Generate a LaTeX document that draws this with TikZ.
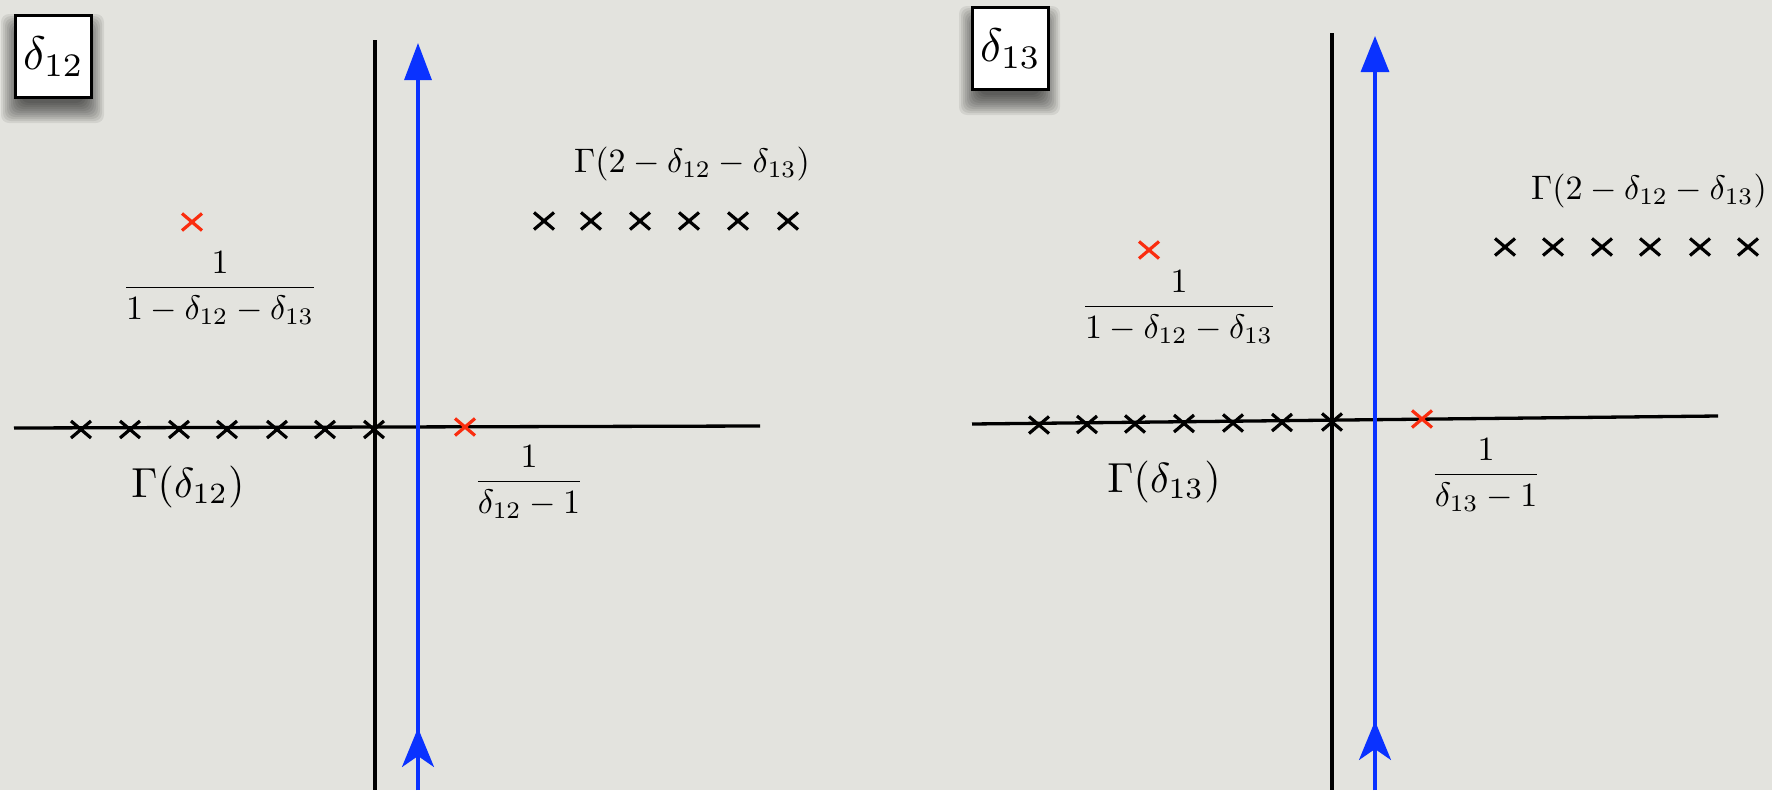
\documentclass[tikz,border=0pt]{standalone}
\usepackage{graphicx}
\usetikzlibrary{arrows.meta}
\definecolor{bg}{RGB}{227,227,222}
\definecolor{polered}{RGB}{250,45,15}
\definecolor{contblue}{RGB}{10,50,255}
\newcommand{\mylargemath}[1]{\scalebox{4.2}{$#1$}}
\newcommand{\mymidmath}[1]{\scalebox{3.4}{$\displaystyle #1$}}
\newcommand{\myboxmath}[1]{\scalebox{4.7}{$#1$}}
\newcommand{\myshadow}[4]{% x1 y1 x2 y2 of box outer edge
  \foreach \r in {12,10,...,-8}
    \fill[black,opacity=0.075,rounded corners=8pt]
      (#1-1-\r,#2+12-\r) rectangle (#3-1+\r,#4+12+\r);}
\tikzset{
  axisline/.style={line width=3.3pt,black},
  contour/.style={line width=3.2pt,contblue},
  xmark/.pic={\draw[line width=3.2pt] (-10,-8.5) -- (10,8.5) (-10,8.5) -- (10,-8.5);},
  labelbox/.style={draw,line width=3pt,fill=white,minimum width=76pt,minimum height=82pt,inner sep=0pt},
  txt/.style={inner sep=0pt},
}
\begin{document}
\begin{tikzpicture}[x=1pt,y=-1pt]
\fill[bg] (0,0) rectangle (1772,790);
\useasboundingbox (0,0) rectangle (1772,790);

% ---------------- left panel ----------------
\coordinate (Lvt) at (375,40);
\coordinate (Lvb) at (375,790);
\coordinate (Lhl) at (14,428);
\coordinate (Lhr) at (760,426);
\coordinate (Lbt) at (418,43);
\coordinate (Lbb) at (418,790);
\coordinate (Lbm) at (418,728);
\draw[axisline] (Lvt) -- (Lvb);
\draw[axisline] (Lhl) -- (Lhr);
\draw[contour,-{Triangle[width=27pt,length=37pt]}] (Lbb) -- (Lbt);
\draw[contour,-{Stealth[width=32pt,length=39pt,inset=11pt]}] (Lbb) -- (Lbm);

\foreach \x in {81,130,179,227,277,325,374} \pic at (\x,429.5) {xmark};
\foreach \x in {544,591,640,689,738,788} \pic at (\x,221) {xmark};
\pic[polered] at (465,427) {xmark};
\pic[polered] at (192,222) {xmark};

\myshadow{14}{14}{93}{99}
\node[labelbox] (box12) at (53.5,56.5) {\myboxmath{\delta_{12}}};
\node[txt] (fracL) at (220,288) {\mymidmath{\frac{1}{1-\delta_{12}-\delta_{13}}}};
\node[txt] (gamL) at (188,487) {\mylargemath{\Gamma(\delta_{12})}};
\node[txt] (poleL) at (529,482) {\mymidmath{\frac{1}{\delta_{12}-1}}};
\node[txt] (gam2L) at (692,164) {\mymidmath{\Gamma(2-\delta_{12}-\delta_{13})}};

% ---------------- right panel ----------------
\coordinate (Rvt) at (1332,33);
\coordinate (Rvb) at (1332,790);
\coordinate (Rhl) at (972,424);
\coordinate (Rhr) at (1718,416);
\coordinate (Rbt) at (1375,36);
\coordinate (Rbb) at (1375,790);
\coordinate (Rbm) at (1375,721);
\draw[axisline] (Rvt) -- (Rvb);
\draw[axisline] (Rhl) -- (Rhr);
\draw[contour,-{Triangle[width=28pt,length=36pt]}] (Rbb) -- (Rbt);
\draw[contour,-{Stealth[width=32pt,length=39pt,inset=11pt]}] (Rbb) -- (Rbm);

\foreach \x/\y in {1039/425,1087/424.5,1135/424,1184/423.5,1233/423,1282/422.5,1332/422} \pic at (\x,\y) {xmark};
\foreach \x in {1505,1553,1602,1650,1700,1748} \pic at (\x,247) {xmark};
\pic[polered] at (1422,419) {xmark};
\pic[polered] at (1149,250) {xmark};

\myshadow{972}{6}{1049}{91}
\node[labelbox] (box13) at (1010.5,48.5) {\myboxmath{\delta_{13}}};
\node[txt] (fracR) at (1179,307) {\mymidmath{\frac{1}{1-\delta_{12}-\delta_{13}}}};
\node[txt] (gamR) at (1164,482) {\mylargemath{\Gamma(\delta_{13})}};
\node[txt] (poleR) at (1486,475) {\mymidmath{\frac{1}{\delta_{13}-1}}};
\node[txt] (gam2R) at (1649,191) {\mymidmath{\Gamma(2-\delta_{12}-\delta_{13})}};
\end{tikzpicture}
\end{document}
